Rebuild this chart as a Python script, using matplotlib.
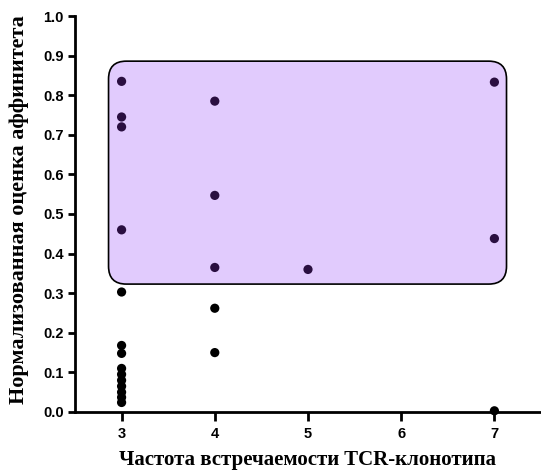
import numpy as np
import matplotlib
matplotlib.use('Agg')
import matplotlib.pyplot as plt
from matplotlib.patches import FancyBboxPatch

# clonotype frequency vs normalized affinity
freq = [3, 3, 3, 3, 3, 3, 3, 3, 3, 3, 3, 3, 3, 3,
        4, 4, 4, 4, 4,
        5,
        7, 7, 7]
affinity = [0.835, 0.745, 0.72, 0.46, 0.303, 0.168, 0.148, 0.11, 0.095, 0.08, 0.065, 0.05, 0.037, 0.024,
            0.785, 0.547, 0.365, 0.262, 0.15,
            0.36,
            0.833, 0.438, 0.003]

# highlighted region (data units)
box_x = [2.86, 7.13]
box_y = [0.323, 0.886]

xticks = [3, 4, 5, 6, 7]
yticks = np.round(np.arange(0, 1.01, 0.1), 1)

fig = plt.figure(figsize=(5.41, 4.71), dpi=100)
ax = fig.add_axes([0.1386, 0.1253, 0.8614, 0.8407])

inside = [(box_x[0] <= x <= box_x[1]) and (box_y[0] <= y <= box_y[1]) for x, y in zip(freq, affinity)]
colors = ['#2a0f40' if i else 'black' for i in inside]

box = FancyBboxPatch((box_x[0], box_y[0]), box_x[1] - box_x[0], box_y[1] - box_y[0],
                     boxstyle='round,pad=0,rounding_size=0.19', mutation_aspect=0.237,
                     facecolor='#e1cbfd', edgecolor='black', linewidth=1.2, zorder=1)
ax.add_patch(box)
ax.scatter(freq, affinity, s=44, c=colors, zorder=3, clip_on=False, linewidths=0)

ax.set_xlim(2.5, 7.5)
ax.set_ylim(0, 1.0)
ax.set_xticks(xticks)
ax.set_yticks(yticks)
ax.set_yticklabels([f'{v:.1f}' for v in yticks])

for s in ['top', 'right']:
    ax.spines[s].set_visible(False)
for s in ['left', 'bottom']:
    ax.spines[s].set_linewidth(2)
ax.tick_params(width=2, labelsize=10.5)
ax.tick_params(axis='x', length=6.5, pad=4)
ax.tick_params(axis='y', length=5, pad=3)
for lab in ax.get_xticklabels() + ax.get_yticklabels():
    lab.set_fontfamily('Liberation Sans')
    lab.set_fontweight('bold')

ax.set_xlabel('Частота встречаемости TCR-клонотипа', fontfamily='Liberation Serif',
              fontweight='bold', fontsize=15, labelpad=7)
ax.set_ylabel('Нормализованная оценка аффинитета', fontfamily='Liberation Serif',
              fontweight='bold', fontsize=16)
ax.yaxis.set_label_coords(-0.098, 0.51)

fig.savefig('out.png', dpi=100)
